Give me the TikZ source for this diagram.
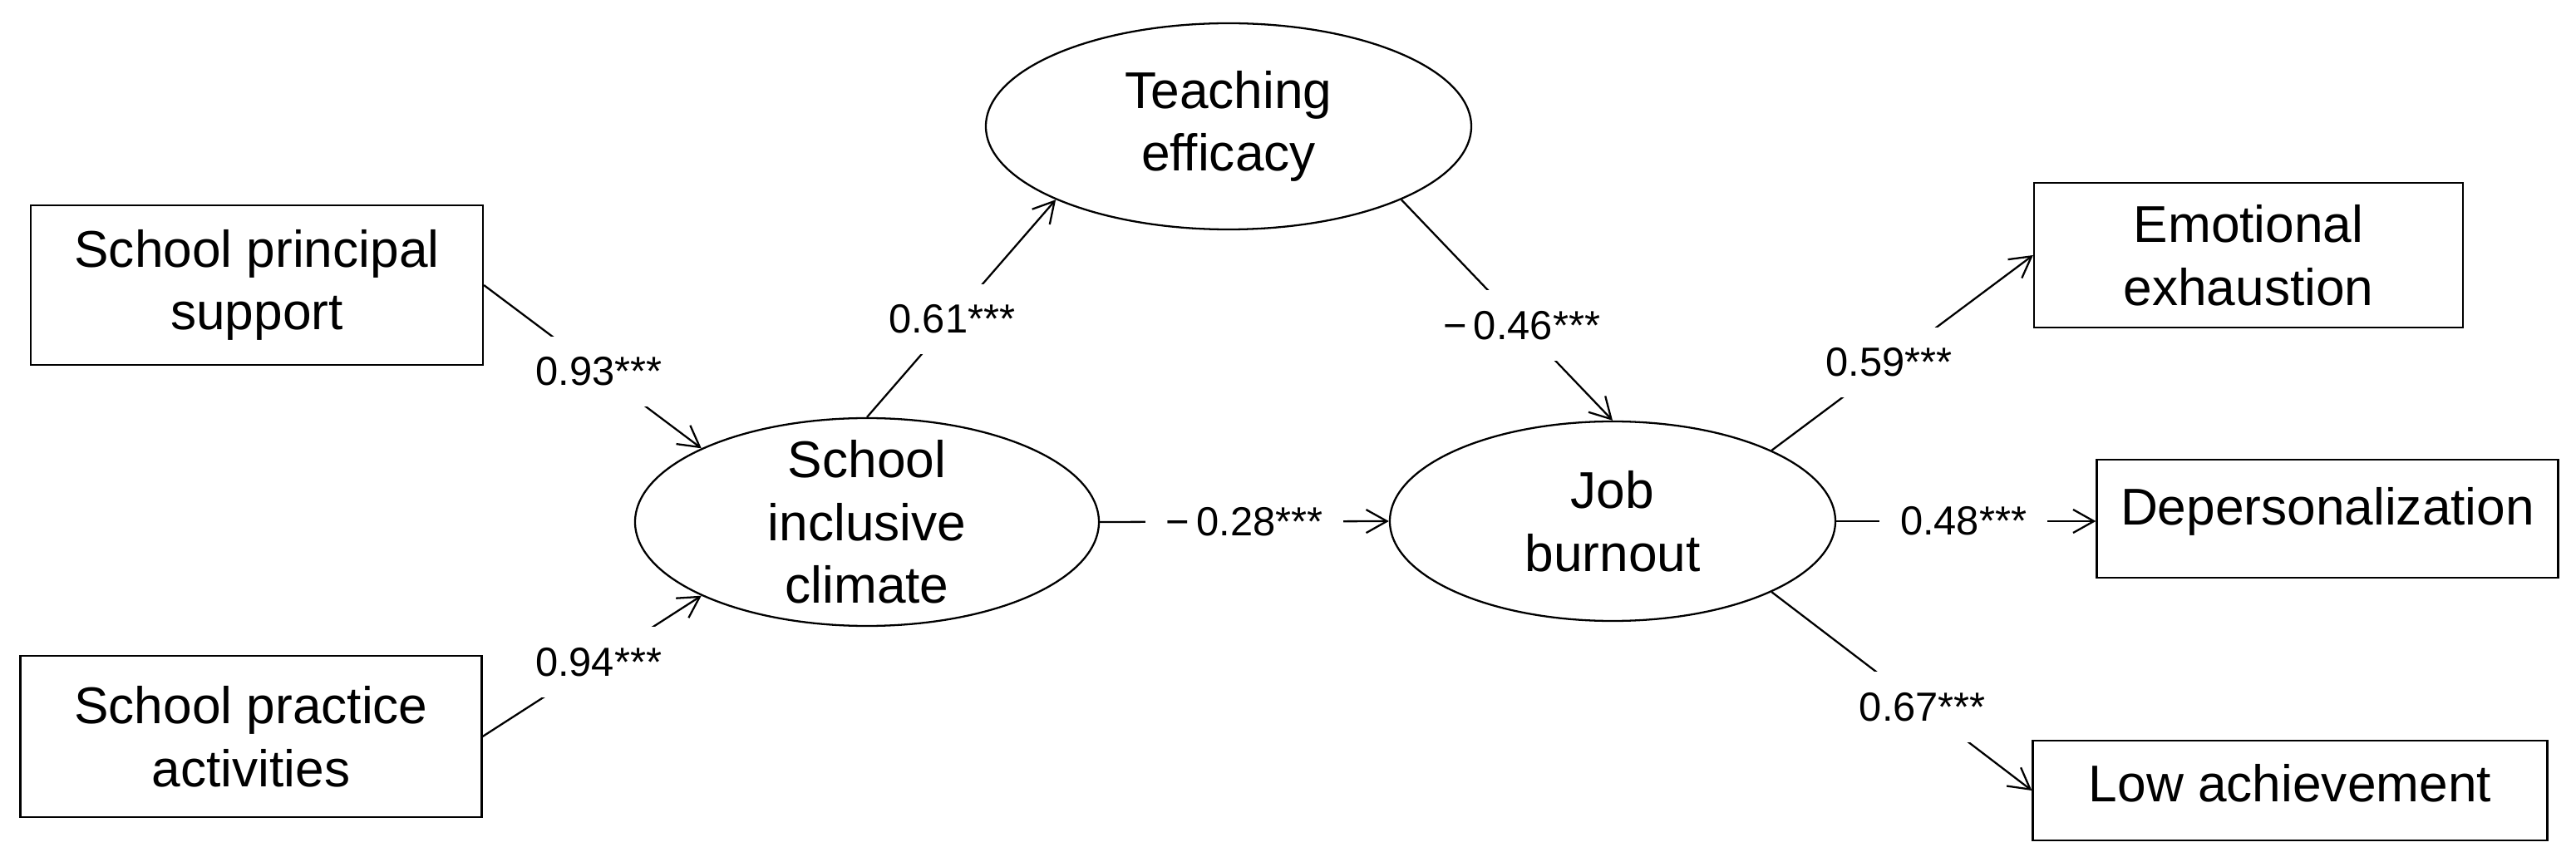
\documentclass[tikz,border=0pt]{standalone}
\usepackage{fontspec}
\setmainfont{Liberation Sans}
\usetikzlibrary{shapes.geometric,arrows.meta}

\begin{document}
\begin{tikzpicture}[
    line width=0.65pt,
    obs/.style={draw, rectangle, inner sep=0pt, align=center, font=\fontsize{17.7}{21.5}\selectfont},
    lat/.style={draw, ellipse, inner sep=-0.3cm, align=center, font=\fontsize{17.7}{21.5}\selectfont},
    coef/.style={fill=white, inner sep=0.25cm, font=\fontsize{13.9}{16}\selectfont},
    arr/.style={-{Straight Barb[length=2.5mm,width=2.8mm]}}
  ]
      \useasboundingbox (0, 0) rectangle (30.99, -10.37);
      \node[obs, minimum width=5.44cm, minimum height=1.92cm] (sps) at (3.09, -3.43) {School principal\\support};
      \node[obs, minimum width=5.55cm, minimum height=1.94cm] (spa) at (3.02, -8.86) {School practice\\activities};
      \node[lat, minimum width=5.58cm, minimum height=2.50cm] (sic) at (10.43, -6.28) {School\\inclusive\\climate};
      \node[lat, minimum width=5.84cm, minimum height=2.48cm] (te) at (14.78, -1.52) {Teaching\\efficacy};
      \node[lat, minimum width=5.36cm, minimum height=2.40cm] (jb) at (19.40, -6.27) {Job\\burnout};
      \node[obs, minimum width=5.16cm, minimum height=1.74cm] (ee) at (27.05, -3.07) {Emotional\\exhaustion};
      \node[obs, minimum width=5.55cm, inner ysep=0pt, text height=0.78cm, text depth=0.64cm] (dep) at (28.00, -6.24) {Depersonalization};
      \node[obs, minimum width=6.19cm, inner ysep=0pt, text height=0.73cm, text depth=0.47cm] (la) at (27.55, -9.51) {Low achievement};
      \draw[arr] (sps.east) -- node[coef, pos=0.53] {0.93***} (sic.156);
      \draw[arr] (spa.east) -- node[coef, pos=0.53] {0.94***} (sic.204);
      \draw[arr] (sic.north) -- node[coef, pos=0.45] {0.61***} (te.203);
      \draw[arr] (te.337) -- node[coef, pos=0.57] {−\,0.46***} (jb.north);
      \draw[arr] (sic.east) -- node[coef, pos=0.5] {−\,0.28***} (jb.west);
      \draw[arr] (jb.24) -- node[coef, pos=0.45] {0.59***} (ee.west);
      \draw[arr] (jb.east) -- node[coef, pos=0.49] {0.48***} (jb.east -| dep.west);
      \draw[arr] (jb.336) -- node[coef, pos=0.58] {0.67***} (la.west);
\end{tikzpicture}
\end{document}
